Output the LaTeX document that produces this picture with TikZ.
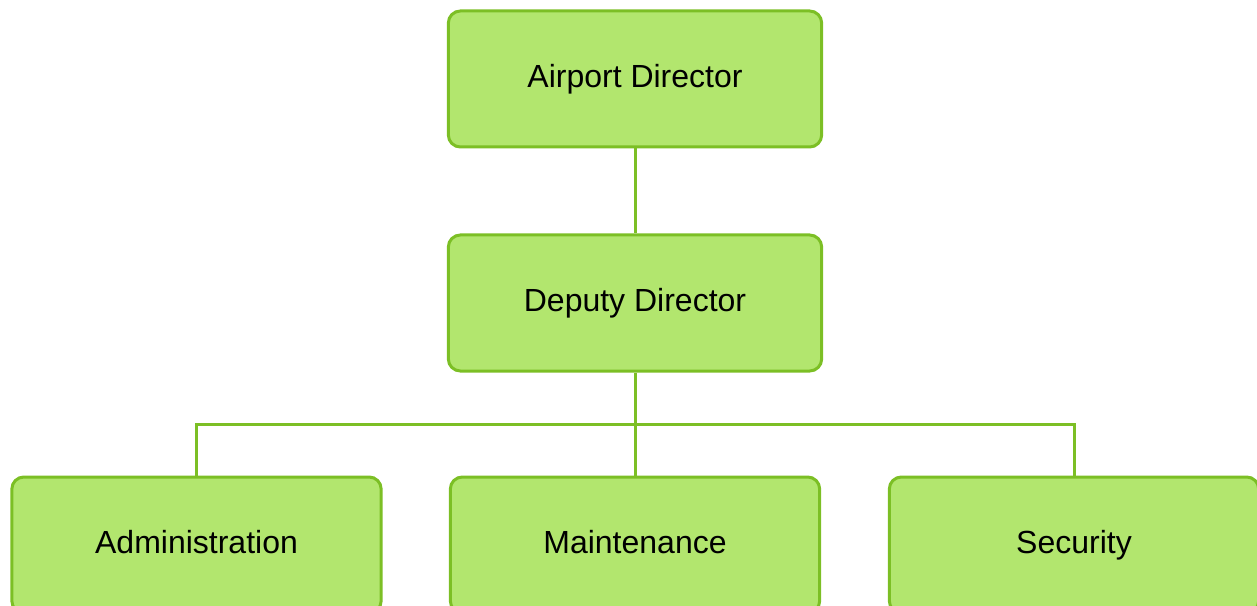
\documentclass[tikz,border=0pt]{standalone}
\usepackage{fontspec}
\setmainfont{Liberation Sans}
\definecolor{boxfill}{HTML}{B2E66E}
\definecolor{boxline}{HTML}{7CBF25}
\begin{document}
\begin{tikzpicture}[x=0.75pt,y=-0.75pt,
  orgbox/.style={draw=boxline,fill=boxfill,line width=2.25pt,rounded corners=9pt,
    minimum width=277pt,minimum height=102pt,inner sep=0pt,
    text height=18pt,text depth=5pt,
    font=\fontsize{24}{28}\selectfont,text=black},
  topbox/.style={orgbox,minimum width=280pt},
  link/.style={draw=boxline,line width=2.25pt}]
\useasboundingbox (0,0) rectangle (1257,606);
\begin{scope}
\clip (0,0) rectangle (1257,606);
\node[topbox] (ad) at (635,79) {Airport Director};
\node[topbox] (dd) at (635,303) {Deputy Director};
\node[orgbox] (adm) at (196.5,545) {Administration};
\node[orgbox] (mnt) at (635,545) {Maintenance};
\node[orgbox] (sec) at (1074,545) {Security};
\coordinate (j) at (635,424);
\draw[link] (ad) -- (dd);
\draw[link] (dd.south) -- (j);
\draw[link] (j) -| (adm.north);
\draw[link] (j) -| (sec.north);
\draw[link] (j) -- (mnt.north);
\end{scope}
\end{tikzpicture}
\end{document}
